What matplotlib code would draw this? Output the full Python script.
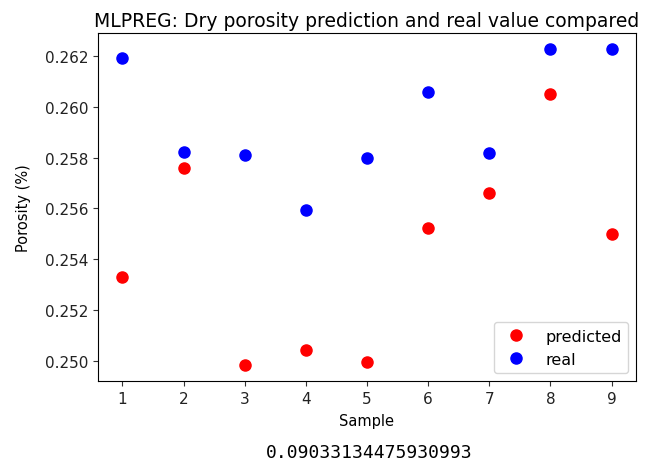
import matplotlib.pyplot as plt
import numpy as np

samples = [1, 2, 3, 4, 5, 6, 7, 8, 9]
predicted = [0.25328, 0.25760, 0.24982, 0.25043, 0.24993, 0.25522, 0.25662, 0.26050, 0.25499]
real = [0.26194, 0.25823, 0.25810, 0.25592, 0.25797, 0.26057, 0.25819, 0.26229, 0.26229]
score = 0.09033134475930993

fig = plt.figure(figsize=(6.46, 4.64), dpi=100)
ax = fig.add_axes([0.1517, 0.1767, 0.8328, 0.75])

ax.plot(samples, predicted, 'ro', markersize=8, label='predicted')
ax.plot(samples, real, 'bo', markersize=8, label='real')
ax.set_title('MLPREG: Dry porosity prediction and real value compared', fontsize=13.5, pad=5)
ax.set_xlabel('Sample', fontsize=10.5, labelpad=5)
ax.set_ylabel('Porosity (%)', fontsize=10.5, labelpad=10)
ax.set_xticks(samples)
ax.set_yticks(np.arange(0.250, 0.2621, 0.002))
ax.tick_params(labelsize=11, colors='#333333', labelcolor='#222222')
ax.legend(loc='lower right', fontsize=11.5)

fig.text(0.572, 0.013, str(score), family='DejaVu Sans Mono', fontsize=13, ha='center')

fig.savefig('out.png')
